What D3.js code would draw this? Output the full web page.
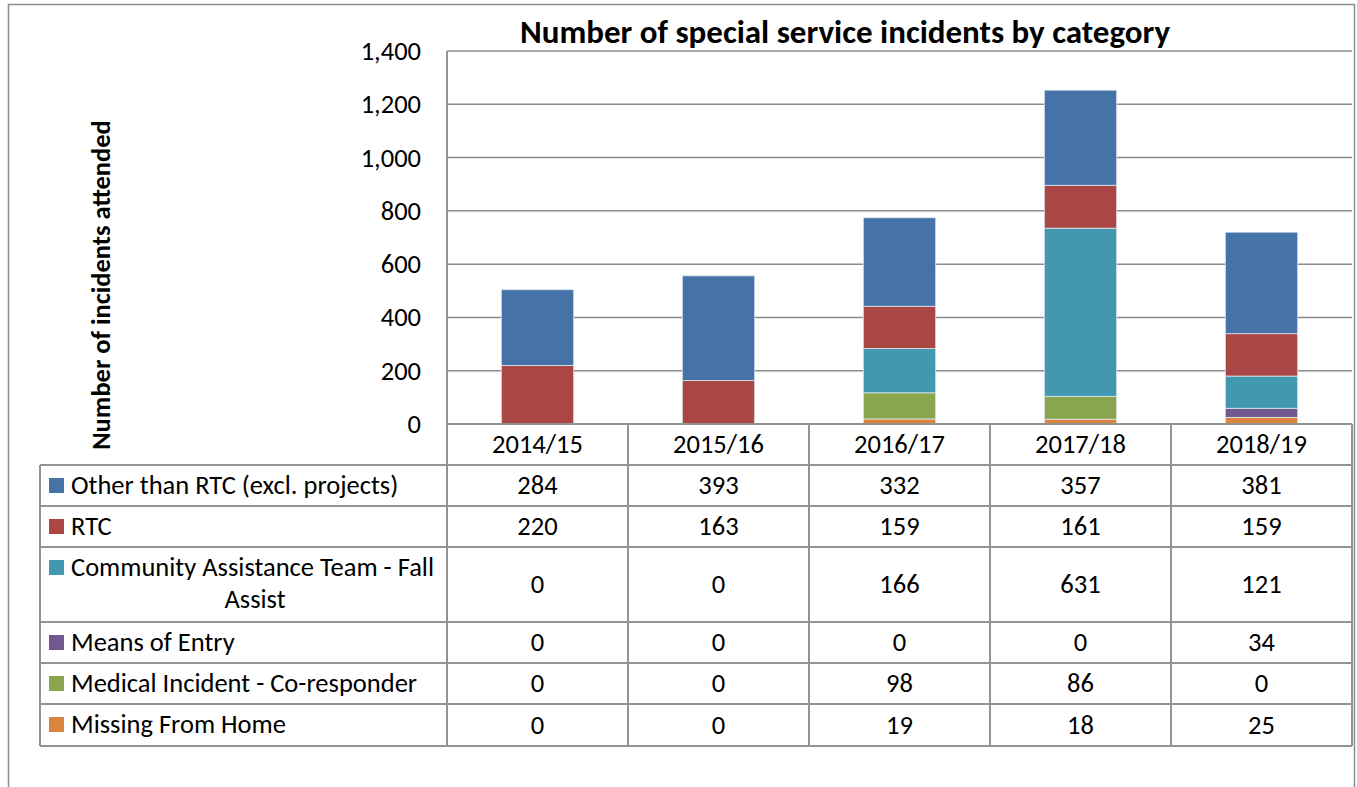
<!DOCTYPE html>
<html>
<head>
<meta charset="utf-8">
<script src="https://cdn.jsdelivr.net/npm/d3@7"></script>
<style>
  body { margin: 0; background: #fff; }
  text { font-family: Carlito, Calibri, Lato, sans-serif; fill: #000; }
</style>
</head>
<body>
<div id="chart"></div>
<script>
var years = ['2014/15', '2015/16', '2016/17', '2017/18', '2018/19'];
var seriesNames = ['Other than RTC (excl. projects)', 'RTC', 'Community Assistance Team - Fall Assist',
    'Means of Entry', 'Medical Incident - Co-responder', 'Missing From Home'];
var seriesColors = ['#4572A7', '#AA4643', '#4198AF', '#71588F', '#89A54E', '#DB843D'];
var other   = [284, 393, 332, 357, 381];
var rtc     = [220, 163, 159, 161, 159];
var cat     = [0, 0, 166, 631, 121];
var entry   = [0, 0, 0, 0, 34];
var medical = [0, 0, 98, 86, 0];
var missing = [0, 0, 19, 18, 25];
var yTicks = [0, 200, 400, 600, 800, 1000, 1200, 1400];

(function() {
    var W = 1357, H = 787;
    var fs = '26.5px';
    var svg = d3.select('#chart').append('svg').attr('width', W).attr('height', H);
    var values = [other, rtc, cat, entry, medical, missing];
    var keys = ['other', 'rtc', 'cat', 'entry', 'medical', 'missing'];
    var rows = years.map(function(y, i) {
	var r = { year: y };
	keys.forEach(function(k, j) { r[k] = values[j][i]; });
	return r;
    });

    var left = 447, right = 1352, top = 51, bottom = 424;
    var x = d3.scaleBand().domain(years).range([left, right]);
    var y = d3.scaleLinear().domain([0, 1400]).range([bottom, top]);
    var grid = '#8c8c8c';

    // outer frame
    svg.append('path')
	.attr('d', 'M8.5,' + H + 'V4.5H1354.5V' + H)
	.attr('fill', 'none').attr('stroke', grid).attr('stroke-width', 1.5);

    // gridlines
    svg.append('g').selectAll('line').data(yTicks).enter().append('line')
	.attr('x1', left).attr('x2', right)
	.attr('y1', function(d) { return y(d) }).attr('y2', function(d) { return y(d) })
	.attr('stroke', grid).attr('stroke-width', 1.5);

    // y axis labels
    var ax = svg.append('g').attr('transform', 'translate(' + left + ',0)')
	.call(d3.axisLeft(y).tickValues(yTicks).tickFormat(d3.format(',')).tickSize(0).tickPadding(26));
    ax.select('.domain').remove();
    ax.selectAll('text').style('font-family', 'Carlito, Calibri, Lato, sans-serif')
	.style('font-size', fs).attr('fill', '#000');

    // stacked bars, bottom first
    var stackKeys = keys.slice().reverse();
    var stacked = d3.stack().keys(stackKeys)(rows);
    var bw = x.bandwidth() * 0.4;
    svg.append('g').selectAll('g').data(stacked).enter().append('g')
	.attr('fill', function(s) { return seriesColors[keys.indexOf(s.key)] })
	.selectAll('rect').data(function(s) { return s }).enter().append('rect')
	.attr('x', function(d) { return x(d.data.year) + (x.bandwidth() - bw) / 2 })
	.attr('width', bw)
	.attr('y', function(d) { return y(d[1]) })
	.attr('height', function(d) { return y(d[0]) - y(d[1]) })
	.attr('stroke', function(d) { return d[1] > d[0] ? '#dfe8f0' : 'none' })
	.attr('stroke-width', 0.8);

    // data table
    var tLeft = 40;
    var rowLines = [424, 465, 506, 547, 622, 663, 704, 746];
    var tbl = svg.append('g');
    var lineStyle = function(s) { return s.attr('stroke', '#939393').attr('stroke-width', 2) };
    rowLines.forEach(function(ry, i) {
	if (i == 0) return;
	tbl.append('line').attr('x1', tLeft).attr('x2', right)
	    .attr('y1', ry).attr('y2', ry).call(lineStyle);
    });
    tbl.append('line').attr('x1', left).attr('x2', right).attr('y1', 424).attr('y2', 424).call(lineStyle);
    tbl.append('line').attr('x1', tLeft).attr('x2', tLeft).attr('y1', 465).attr('y2', 746).call(lineStyle);
    tbl.append('line').attr('x1', left).attr('x2', left).attr('y1', top).attr('y2', 746).call(lineStyle);
    years.forEach(function(yr) {
	var xx = x(yr) + x.bandwidth();
	tbl.append('line').attr('x1', xx).attr('x2', xx).attr('y1', 424).attr('y2', 746).call(lineStyle);
    });

    // header
    tbl.selectAll('text.year').data(years).enter().append('text')
	.attr('x', function(d) { return x(d) + x.bandwidth() / 2 }).attr('y', 453)
	.attr('text-anchor', 'middle').style('font-size', fs).text(function(d) { return d });

    seriesNames.forEach(function(name, i) {
	var y0 = rowLines[i + 1], y1 = rowLines[i + 2];
	var mid = (y0 + y1) / 2;
	tbl.append('rect').attr('x', 49).attr('y', y0 + 13).attr('width', 15).attr('height', 15)
	    .attr('fill', seriesColors[i]);
	if (i == 2) {
	    tbl.append('text').attr('x', 71).attr('y', y0 + 29).style('font-size', fs)
		.text('Community Assistance Team - Fall');
	    tbl.append('text').attr('x', 255).attr('y', y0 + 61).attr('text-anchor', 'middle')
		.style('font-size', fs).text('Assist');
	} else {
	    tbl.append('text').attr('x', 71).attr('y', y0 + 29).style('font-size', fs).text(name);
	}
	tbl.selectAll(null).data(values[i]).enter().append('text')
	    .attr('x', function(d, j) { return x(years[j]) + x.bandwidth() / 2 })
	    .attr('y', mid + 8.5)
	    .attr('text-anchor', 'middle').style('font-size', fs)
	    .text(function(d) { return d });
    });

    // titles
    svg.append('text').attr('x', 845).attr('y', 43).attr('text-anchor', 'middle')
	.style('font-size', '33px').style('font-weight', 'bold')
	.text('Number of special service incidents by category');
    svg.append('text').attr('transform', 'translate(110,285) rotate(-90)')
	.attr('text-anchor', 'middle').style('font-size', fs).style('font-weight', 'bold')
	.text('Number of incidents attended');
})();
</script>
</body>
</html>
